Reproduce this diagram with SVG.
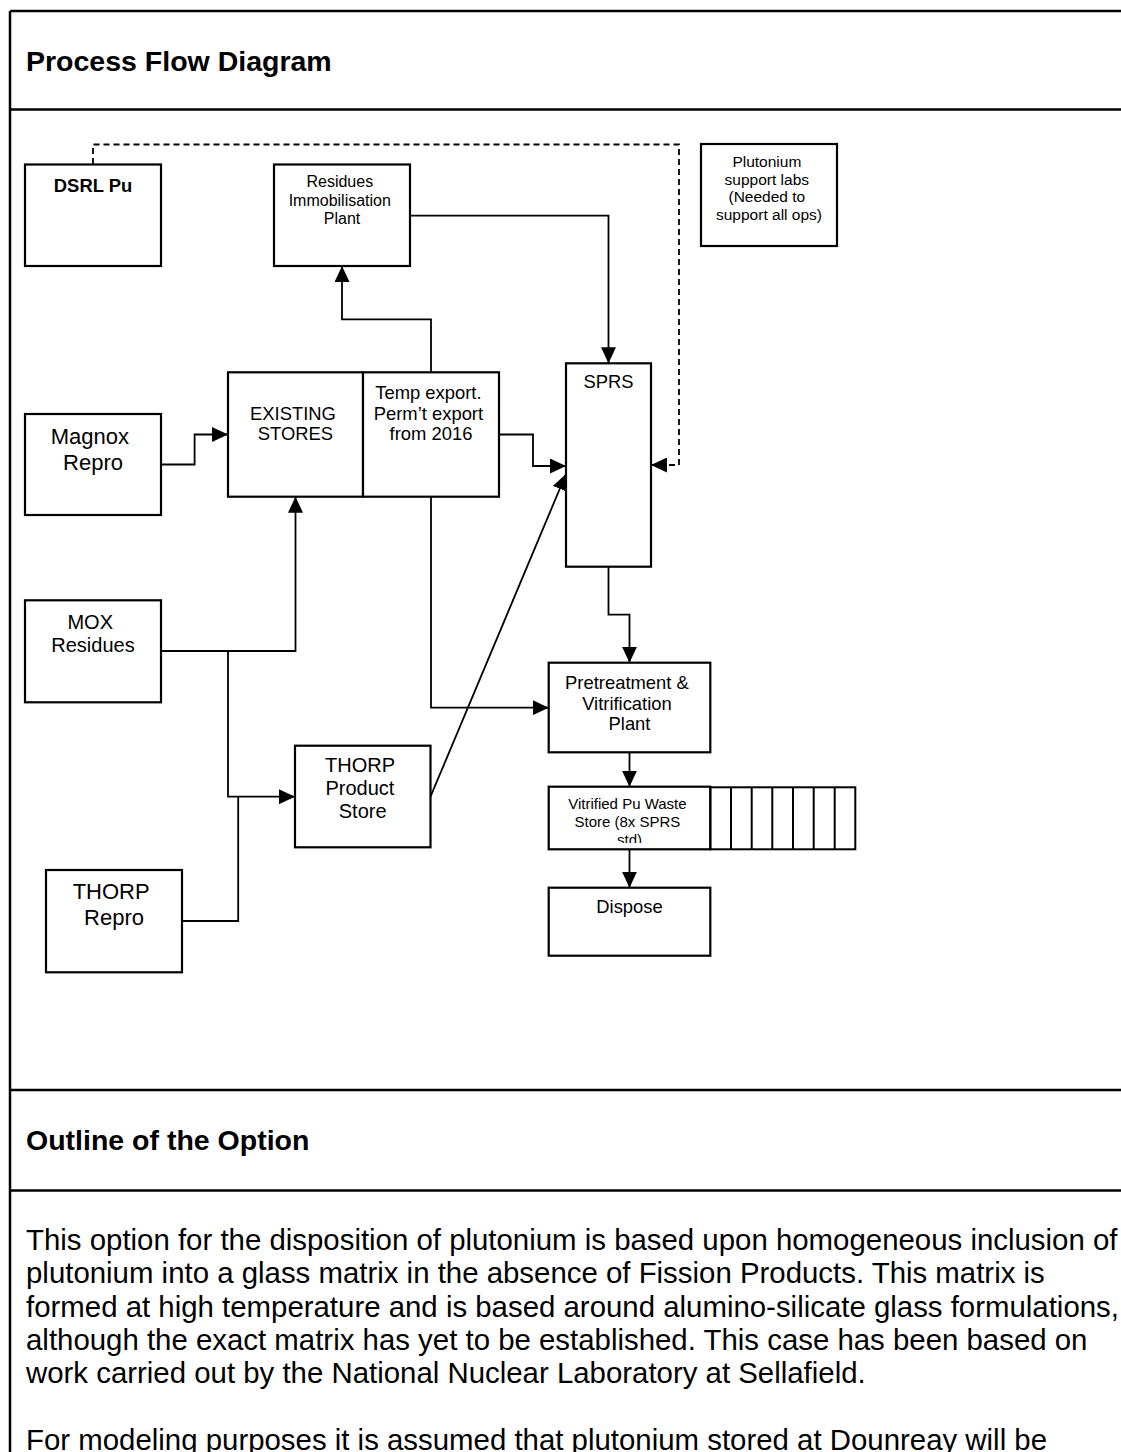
<svg xmlns="http://www.w3.org/2000/svg" width="1121" height="1452" viewBox="0 0 1121 1452">
  <style>
    .frame { stroke: #000; stroke-width: 2.5; fill: none; }
    .box { fill: #fff; stroke: #000; stroke-width: 2.2; }
    .cell { fill: none; stroke: #000; stroke-width: 2; }
    .conn { fill: none; stroke: #000; stroke-width: 1.8; }
    .dash { fill: none; stroke: #000; stroke-width: 1.8; stroke-dasharray: 6 4; }
    .lbl { font-family: "Liberation Sans", Arial, sans-serif; fill: #000; text-anchor: middle; }
    .head { font-family: "Liberation Sans", Arial, sans-serif; font-weight: bold; font-size: 28.5px; fill: #000; }
    .body { font-family: "Liberation Sans", Arial, sans-serif; font-size: 29.4px; fill: #000; }
  </style>
  <defs>
    <marker id="arrow" viewBox="0 0 16 15" markerWidth="16" markerHeight="15" refX="16" refY="7.5" orient="auto" markerUnits="userSpaceOnUse">
      <path d="M0,0 L16,7.5 L0,15 Z" fill="#000"/>
    </marker>
    <clipPath id="vitClip">
      <rect x="549" y="787" width="161" height="56"/>
    </clipPath>
  </defs>

  <rect width="1121" height="1452" fill="#fff"/>

  <!-- page table frame -->
  <g id="frame">
    <line class="frame" x1="10" y1="11" x2="1121" y2="11"/>
    <line class="frame" x1="10" y1="11" x2="10" y2="1452"/>
    <line class="frame" x1="10" y1="109.5" x2="1121" y2="109.5"/>
    <line class="frame" x1="10" y1="1090" x2="1121" y2="1090"/>
    <line class="frame" x1="10" y1="1190.5" x2="1121" y2="1190.5"/>
    <text class="head" x="26" y="71">Process Flow Diagram</text>
    <text class="head" x="26" y="1150">Outline of the Option</text>
  </g>

  <!-- connectors -->
  <g id="connectors">
    <!-- DSRL Pu to SPRS (dashed) -->
    <path class="dash" d="M93,164 V144.5 H679 V465 H651" marker-end="url(#arrow)"/>
    <!-- Temp export up to Residues Immobilisation Plant -->
    <path class="conn" d="M431,372.3 V319.3 H342 V266" marker-end="url(#arrow)"/>
    <!-- Residues Immobilisation Plant to SPRS -->
    <path class="conn" d="M410,215.7 H608.5 V363.3" marker-end="url(#arrow)"/>
    <!-- Magnox Repro to Existing Stores -->
    <path class="conn" d="M161,464.5 H194.6 V434.5 H228" marker-end="url(#arrow)"/>
    <!-- Temp export to SPRS -->
    <path class="conn" d="M499,434.5 H533 V466 H566" marker-end="url(#arrow)"/>
    <!-- MOX Residues to Existing Stores -->
    <path class="conn" d="M161,651 H295.5 V496.7" marker-end="url(#arrow)"/>
    <!-- MOX Residues branch to THORP Product Store -->
    <path class="conn" d="M228,651 V796.7 H295" marker-end="url(#arrow)"/>
    <!-- THORP Repro joins the branch -->
    <path class="conn" d="M182,921 H238.2 V796.7"/>
    <!-- THORP Product Store to SPRS -->
    <path class="conn" d="M430.5,796.7 L566,474" marker-end="url(#arrow)"/>
    <!-- Temp export down to Pretreatment -->
    <path class="conn" d="M431,496.7 V707.7 H548.7" marker-end="url(#arrow)"/>
    <!-- SPRS to Pretreatment -->
    <path class="conn" d="M608.5,566.7 V614.7 H629.5 V662.7" marker-end="url(#arrow)"/>
    <!-- Pretreatment to Vitrified store -->
    <path class="conn" d="M629.5,752.3 V786.7" marker-end="url(#arrow)"/>
    <!-- Vitrified store to Dispose -->
    <path class="conn" d="M629.5,849.3 V887.7" marker-end="url(#arrow)"/>
  </g>

  <!-- nodes -->
  <g id="dsrl-pu">
    <rect class="box" x="25" y="164.5" width="136" height="101.5"/>
    <text class="lbl" x="93" y="192" font-size="18.4" font-weight="bold">DSRL Pu</text>
  </g>

  <g id="residues-immobilisation">
    <rect class="box" x="274" y="164.5" width="136" height="101.5"/>
    <text class="lbl" font-size="16">
      <tspan x="342" y="187">Residues</tspan>
      <tspan x="342" y="205.5">Immobilisation</tspan>
      <tspan x="342" y="224">Plant</tspan>
    </text>
  </g>

  <g id="plutonium-labs">
    <rect class="box" x="701" y="144" width="136" height="102"/>
    <text class="lbl" font-size="15.5">
      <tspan x="769" y="167">Plutonium</tspan>
      <tspan x="769" y="184.5">support labs</tspan>
      <tspan x="769" y="202">(Needed to</tspan>
      <tspan x="769" y="219.5">support all ops)</tspan>
    </text>
  </g>

  <g id="magnox-repro">
    <rect class="box" x="25" y="414" width="136" height="101"/>
    <text class="lbl" font-size="22">
      <tspan x="93" y="444">Magnox</tspan>
      <tspan x="93" y="470">Repro</tspan>
    </text>
  </g>

  <g id="existing-stores">
    <rect class="box" x="228" y="372.3" width="135" height="124.4"/>
    <text class="lbl" font-size="18.4">
      <tspan x="295.5" y="419.5">EXISTING</tspan>
      <tspan x="295.5" y="440">STORES</tspan>
    </text>
  </g>

  <g id="temp-export">
    <rect class="box" x="363" y="372.3" width="136" height="124.4"/>
    <text class="lbl" font-size="18.4">
      <tspan x="431" y="398.5">Temp export.</tspan>
      <tspan x="431" y="419.5">Perm’t export</tspan>
      <tspan x="431" y="440">from 2016</tspan>
    </text>
  </g>

  <g id="sprs">
    <rect class="box" x="566" y="363.3" width="85" height="203.4"/>
    <text class="lbl" x="608.5" y="388" font-size="18.4">SPRS</text>
  </g>

  <g id="mox-residues">
    <rect class="box" x="25" y="600.3" width="136" height="102"/>
    <text class="lbl" font-size="20">
      <tspan x="93" y="629">MOX</tspan>
      <tspan x="93" y="652">Residues</tspan>
    </text>
  </g>

  <g id="thorp-product-store">
    <rect class="box" x="295" y="745.7" width="135.5" height="101.6"/>
    <text class="lbl" font-size="20">
      <tspan x="362.7" y="772">THORP</tspan>
      <tspan x="362.7" y="795">Product</tspan>
      <tspan x="362.7" y="817.5">Store</tspan>
    </text>
  </g>

  <g id="thorp-repro">
    <rect class="box" x="46" y="870" width="136" height="102.3"/>
    <text class="lbl" font-size="22">
      <tspan x="114" y="898.5">THORP</tspan>
      <tspan x="114" y="925">Repro</tspan>
    </text>
  </g>

  <g id="pretreatment-vitrification">
    <rect class="box" x="548.7" y="662.7" width="161.6" height="89.6"/>
    <text class="lbl" font-size="18.4">
      <tspan x="629.5" y="688.5">Pretreatment &amp;</tspan>
      <tspan x="629.5" y="709.5">Vitrification</tspan>
      <tspan x="629.5" y="730">Plant</tspan>
    </text>
  </g>

  <g id="vitrified-store">
    <rect class="box" x="548.7" y="786.7" width="161.6" height="62.6"/>
    <rect class="cell" x="710.3" y="787.3" width="145" height="62"/>
    <path class="cell" d="M731,787.3 V849.3 M751.7,787.3 V849.3 M772.3,787.3 V849.3 M793,787.3 V849.3 M813.7,787.3 V849.3 M834.7,787.3 V849.3"/>
    <text class="lbl" font-size="15" clip-path="url(#vitClip)">
      <tspan x="629.5" y="809">Vitrified Pu Waste</tspan>
      <tspan x="629.5" y="827">Store (8x SPRS</tspan>
      <tspan x="629.5" y="845">std)</tspan>
    </text>
  </g>

  <g id="dispose">
    <rect class="box" x="548.7" y="887.7" width="161.6" height="68"/>
    <text class="lbl" x="629.5" y="913" font-size="18.4">Dispose</text>
  </g>

  <!-- option outline text -->
  <g id="outline-text">
    <text class="body" x="26" y="1250">This option for the disposition of plutonium is based upon homogeneous inclusion of</text>
    <text class="body" x="26" y="1283.3">plutonium into a glass matrix in the absence of Fission Products. This matrix is</text>
    <text class="body" x="26" y="1316.6">formed at high temperature and is based around alumino-silicate glass formulations,</text>
    <text class="body" x="26" y="1349.9">although the exact matrix has yet to be established. This case has been based on</text>
    <text class="body" x="26" y="1383.2">work carried out by the National Nuclear Laboratory at Sellafield.</text>
    <text class="body" x="26" y="1449.8">For modeling purposes it is assumed that plutonium stored at Dounreay will be</text>
  </g>
</svg>
